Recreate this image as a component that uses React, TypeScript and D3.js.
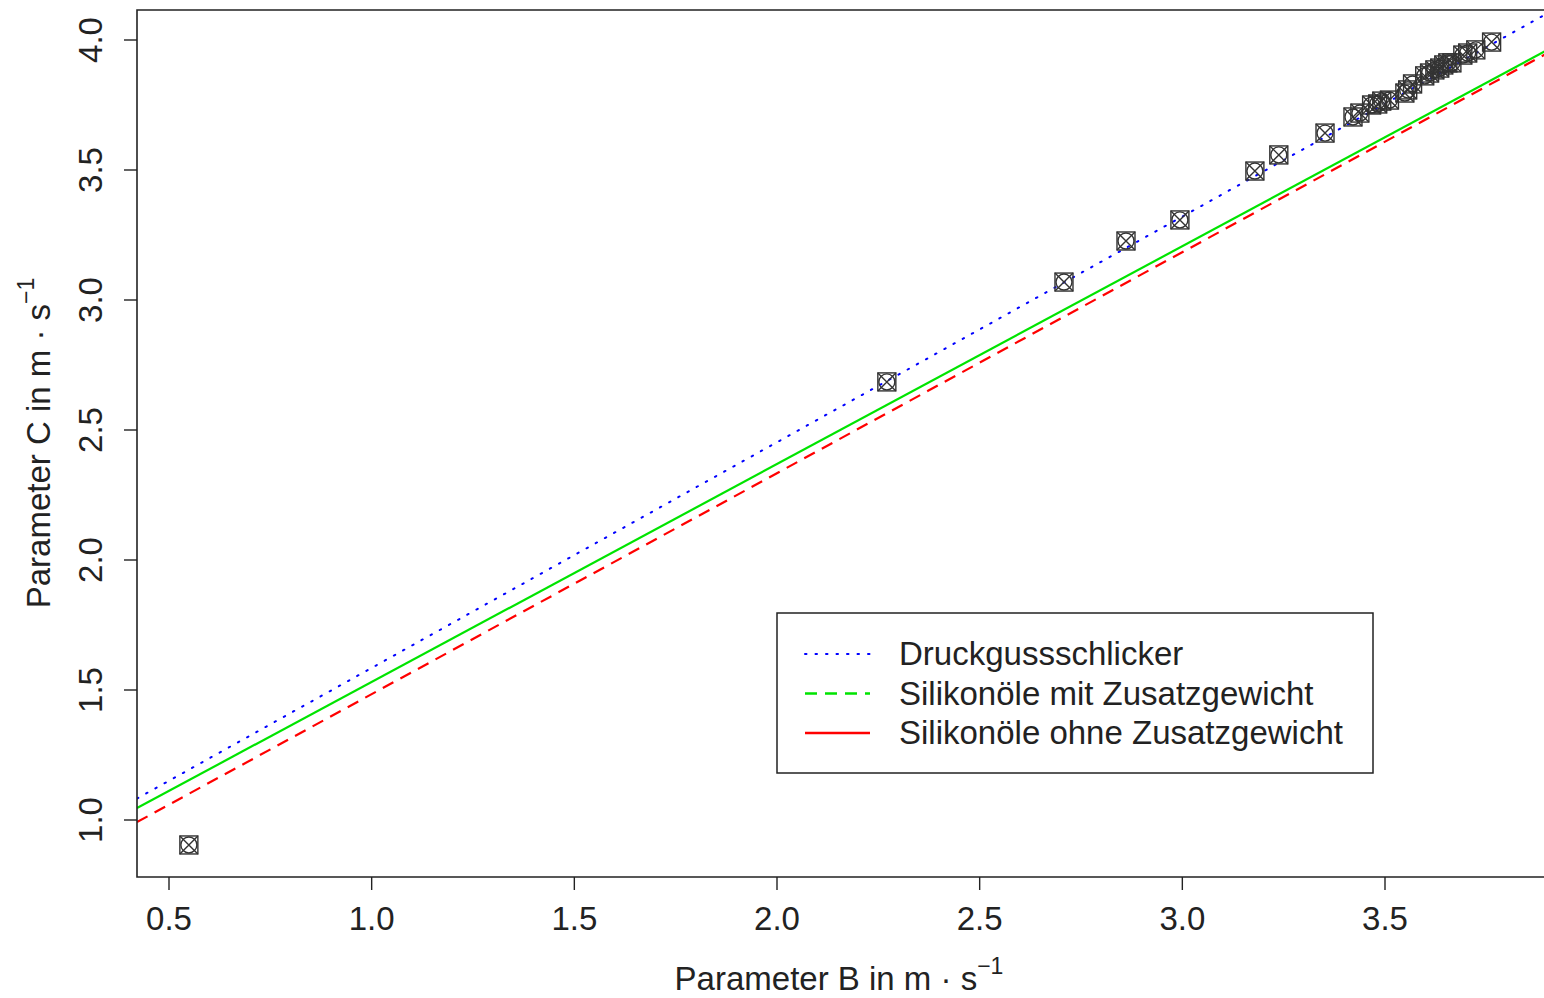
import { useEffect, useRef } from 'react';
import * as d3 from 'd3';

// measured points (Parameter B, Parameter C)
const paramB = [0.549, 2.271, 2.708, 2.861, 2.994, 3.179, 3.238, 3.352, 3.421, 3.438, 3.467, 3.482, 3.492, 3.511, 3.549, 3.556, 3.568, 3.598, 3.61, 3.623, 3.635, 3.645, 3.655, 3.665, 3.692, 3.704, 3.724, 3.763];
const paramC = [0.904, 2.685, 3.069, 3.227, 3.308, 3.496, 3.558, 3.642, 3.704, 3.719, 3.75, 3.754, 3.765, 3.769, 3.796, 3.808, 3.831, 3.862, 3.873, 3.885, 3.892, 3.904, 3.912, 3.912, 3.942, 3.95, 3.962, 3.992];

// regression lines
const lineNames = ['Druckgussschlicker', 'Silikonöle mit Zusatzgewicht', 'Silikonöle ohne Zusatzgewicht'];
const lineIntercepts = [0.717, 0.693, 0.634];
const lineSlopes = [0.868, 0.838, 0.85];
const lineColors = ['#0000ff', '#00e400', '#ff0000'];
const lineDashes = ['1.5,9', 'none', '12,8'];
const legendDashes = ['1.5,9', '12,8', 'none'];

const xTicks = [0.5, 1.0, 1.5, 2.0, 2.5, 3.0, 3.5];
const yTicks = [1.0, 1.5, 2.0, 2.5, 3.0, 3.5, 4.0];

export default function App() {
  const svgRef = useRef<SVGSVGElement>(null);

  useEffect(() => {
    if (!svgRef.current) return;
    const svg = d3.select(svgRef.current);
    svg.selectAll('*').remove();

    const left = 137, top = 10, bottom = 877, right = 1560;
    const x = d3.scaleLinear().domain([0.5, 3.5]).range([169, 1385]);
    const y = d3.scaleLinear().domain([1.0, 4.0]).range([820, 40]);
    const font = 'Liberation Sans, Arial, Helvetica, sans-serif';
    const fs = 33;

    svg.append('clipPath').attr('id', 'plotclip')
      .append('rect').attr('x', left).attr('y', top).attr('width', right - left).attr('height', bottom - top);

    const plot = svg.append('g').attr('clip-path', 'url(#plotclip)');
    const b0 = x.invert(left), b1 = x.invert(right);

    lineIntercepts.forEach((a, i) => {
      const b = lineSlopes[i];
      plot.append('line')
        .attr('x1', x(b0)).attr('y1', y(a + b * b0))
        .attr('x2', x(b1)).attr('y2', y(a + b * b1))
        .attr('stroke', lineColors[i])
        .attr('stroke-width', i === 0 ? 2 : 2.2)
        .attr('stroke-linecap', i === 0 ? 'round' : 'butt')
        .attr('stroke-dasharray', lineDashes[i]);
    });

    const pts = plot.selectAll('g.pt')
      .data(paramB.map((b, i) => [b, paramC[i]]))
      .enter().append('g')
      .attr('transform', d => `translate(${x(d[0])},${y(d[1])})`)
      .attr('fill', 'none').attr('stroke', '#333').attr('stroke-width', 1.4);
    const h = 9;
    pts.append('rect').attr('x', -h).attr('y', -h).attr('width', 2 * h).attr('height', 2 * h);
    pts.append('circle').attr('r', h - 1);
    pts.append('path').attr('d', `M${-h},${-h}L${h},${h}M${-h},${h}L${h},${-h}`);

    // frame
    svg.append('path')
      .attr('d', `M${right},${top}H${left}V${bottom}H${right}`)
      .attr('fill', 'none').attr('stroke', '#222').attr('stroke-width', 1.6);

    const label = (g: any, tf: string) => g.append('text').attr('transform', tf)
      .attr('font-family', font).attr('font-size', fs).attr('fill', '#222');

    // x axis
    const xa = svg.append('g');
    xTicks.forEach(t => {
      xa.append('line').attr('x1', x(t)).attr('x2', x(t)).attr('y1', bottom).attr('y2', bottom + 13)
        .attr('stroke', '#222').attr('stroke-width', 1.4);
      label(xa, `translate(${x(t)},930)`).attr('text-anchor', 'middle').text(d3.format('.1f')(t));
    });

    // y axis
    const ya = svg.append('g');
    yTicks.forEach(t => {
      ya.append('line').attr('x1', left - 13).attr('x2', left).attr('y1', y(t)).attr('y2', y(t))
        .attr('stroke', '#222').attr('stroke-width', 1.4);
      label(ya, `translate(102,${y(t)}) rotate(-90)`).attr('text-anchor', 'middle').text(d3.format('.1f')(t));
    });

    // axis titles
    const xt = label(svg, 'translate(839,990)').attr('text-anchor', 'middle');
    xt.append('tspan').text('Parameter B in m · s');
    xt.append('tspan').attr('dy', -16).attr('font-size', 23).text('−1');

    const yt = label(svg, 'translate(50,443) rotate(-90)').attr('text-anchor', 'middle');
    yt.append('tspan').text('Parameter C in m · s');
    yt.append('tspan').attr('dy', -16).attr('font-size', 23).text('−1');

    // legend
    const lg = svg.append('g');
    lg.append('rect').attr('x', 777).attr('y', 613).attr('width', 596).attr('height', 160)
      .attr('fill', '#fff').attr('stroke', '#222').attr('stroke-width', 1.5);
    lineNames.forEach((name, i) => {
      const ly = 654 + i * 39.5;
      lg.append('line').attr('x1', 805).attr('x2', 870).attr('y1', ly).attr('y2', ly)
        .attr('stroke', lineColors[i]).attr('stroke-width', i === 0 ? 2 : 2.5)
        .attr('stroke-linecap', i === 0 ? 'round' : 'butt')
        .attr('stroke-dasharray', legendDashes[i]);
      label(lg, `translate(899,${ly + 11})`).text(name);
    });
  }, []);

  return (
    <>
      <style>{'body{margin:0;overflow:hidden}'}</style>
      <svg ref={svgRef} width={1544} height={998} style={{ display: 'block', background: '#fff' }}></svg>
    </>
  );
}
